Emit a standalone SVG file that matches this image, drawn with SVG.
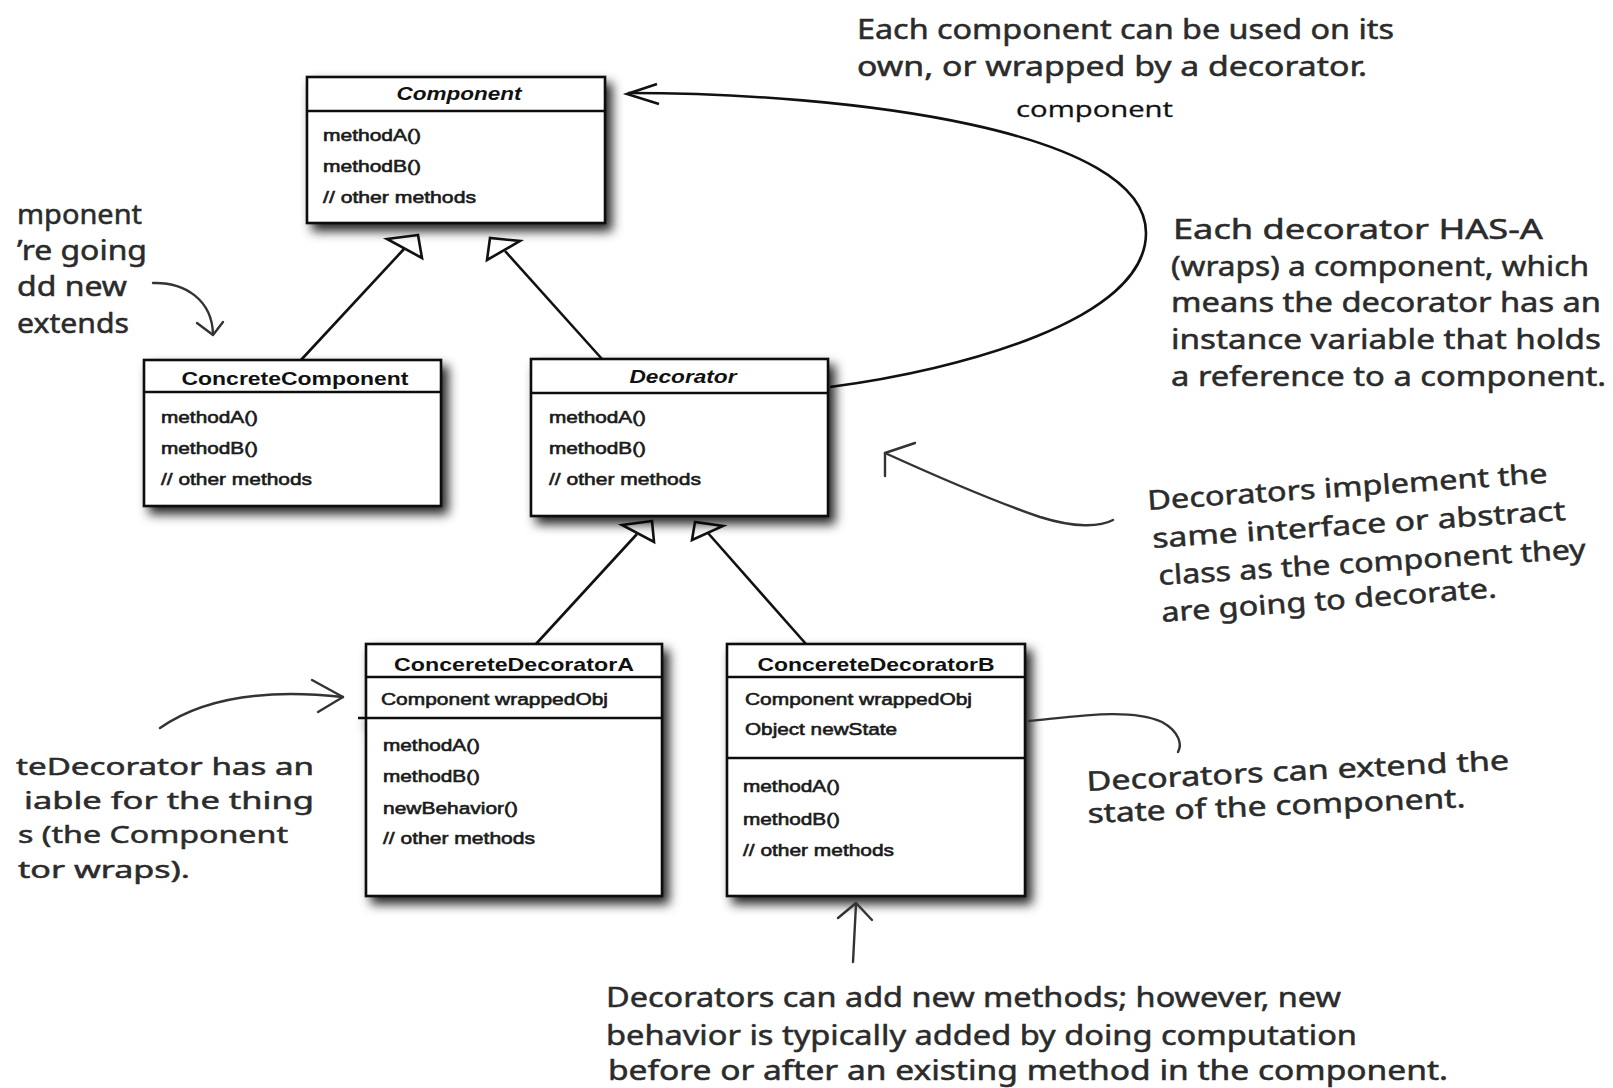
<svg xmlns="http://www.w3.org/2000/svg" width="1613" height="1088" viewBox="0 0 1613 1088">
<defs>
<style>
.box{fill:#fff;stroke:#111;stroke-width:2.6}
.dv{stroke:#111;stroke-width:2.4;fill:none}
.t{font-family:"Liberation Sans",Arial,sans-serif;font-weight:bold;font-size:19px;fill:#111}
.ti{font-style:italic}
.m{font-family:"Liberation Sans",Arial,sans-serif;font-size:17px;fill:#1a1a1a;stroke:#1a1a1a;stroke-width:0.6}
.h{font-family:"Noto Sans",sans-serif;font-size:27px;fill:#2b2b2b;stroke:#2b2b2b;stroke-width:0.5}
.hs{font-size:24px}
.lbl{font-family:"Open Sans","Noto Sans",sans-serif;font-size:22px;fill:#111;stroke:#111;stroke-width:0.3}
.conn{fill:none;stroke:#111;stroke-width:2.6}
.gen{fill:#fff;stroke:#111;stroke-width:2.6;stroke-linejoin:miter}
.ink{fill:none;stroke:#333;stroke-width:2.4;stroke-linecap:round;stroke-linejoin:round}
</style>
<filter id="sh" x="-10%" y="-10%" width="130%" height="130%">
<feDropShadow dx="6" dy="7" stdDeviation="5.5" flood-color="#000" flood-opacity="0.85"/>
</filter>
</defs>
<rect x="0" y="0" width="1613" height="1088" fill="#fff"/>

<g id="connectors">
<line class="conn" x1="301" y1="360" x2="404" y2="249"/>
<polygon class="gen" points="418,235 387,239 422,258"/>
<line class="conn" x1="602" y1="359" x2="505" y2="251"/>
<polygon class="gen" points="490,238 487,260 520,241"/>
<line class="conn" x1="536" y1="644" x2="637" y2="534"/>
<polygon class="gen" points="652,521 622,525 654,542"/>
<line class="conn" x1="806" y1="644" x2="708" y2="533"/>
<polygon class="gen" points="695,522 692,540 723,526"/>
<path class="conn" d="M 830 387 C 960 370, 1146 320, 1146 233 C 1146 130, 850 93, 628 93"/>
<polyline class="conn" points="657,84 627,94 659,104"/>
<text class="lbl" x="1016" y="117" textLength="157" lengthAdjust="spacingAndGlyphs">component</text>
</g>

<g id="node-component">
<g filter="url(#sh)">
<rect class="box" x="307" y="77" width="298" height="146"/>
<line class="dv" x1="307" y1="111" x2="605" y2="111"/>
</g>
<text class="t ti" x="459" y="100" text-anchor="middle" textLength="125" lengthAdjust="spacingAndGlyphs">Component</text>
<text class="m" x="323" y="141" textLength="98" lengthAdjust="spacingAndGlyphs">methodA()</text>
<text class="m" x="323" y="172" textLength="98" lengthAdjust="spacingAndGlyphs">methodB()</text>
<text class="m" x="323" y="203" textLength="153" lengthAdjust="spacingAndGlyphs">// other methods</text>
</g>

<g id="node-concretecomponent">
<g filter="url(#sh)">
<rect class="box" x="144" y="360" width="297" height="146"/>
<line class="dv" x1="144" y1="392" x2="441" y2="392"/>
</g>
<text class="t" x="295" y="385" text-anchor="middle" textLength="227" lengthAdjust="spacingAndGlyphs">ConcreteComponent</text>
<text class="m" x="161" y="423" textLength="97" lengthAdjust="spacingAndGlyphs">methodA()</text>
<text class="m" x="161" y="454" textLength="97" lengthAdjust="spacingAndGlyphs">methodB()</text>
<text class="m" x="161" y="485" textLength="151" lengthAdjust="spacingAndGlyphs">// other methods</text>
</g>

<g id="node-decorator">
<g filter="url(#sh)">
<rect class="box" x="531" y="359" width="297" height="157"/>
<line class="dv" x1="531" y1="393" x2="828" y2="393"/>
</g>
<text class="t ti" x="683" y="383" text-anchor="middle" textLength="107" lengthAdjust="spacingAndGlyphs">Decorator</text>
<text class="m" x="549" y="423" textLength="97" lengthAdjust="spacingAndGlyphs">methodA()</text>
<text class="m" x="549" y="454" textLength="97" lengthAdjust="spacingAndGlyphs">methodB()</text>
<text class="m" x="549" y="485" textLength="152" lengthAdjust="spacingAndGlyphs">// other methods</text>
</g>

<g id="node-decoratorA">
<g filter="url(#sh)">
<rect class="box" x="366" y="644" width="296" height="252"/>
<line class="dv" x1="366" y1="677" x2="662" y2="677"/>
<line class="dv" x1="358" y1="718" x2="662" y2="718"/>
</g>
<text class="t" x="514" y="671" text-anchor="middle" textLength="240" lengthAdjust="spacingAndGlyphs">ConcereteDecoratorA</text>
<text class="m" x="381" y="705" textLength="227" lengthAdjust="spacingAndGlyphs">Component wrappedObj</text>
<text class="m" x="383" y="751" textLength="97" lengthAdjust="spacingAndGlyphs">methodA()</text>
<text class="m" x="383" y="782" textLength="97" lengthAdjust="spacingAndGlyphs">methodB()</text>
<text class="m" x="383" y="814" textLength="135" lengthAdjust="spacingAndGlyphs">newBehavior()</text>
<text class="m" x="383" y="844" textLength="152" lengthAdjust="spacingAndGlyphs">// other methods</text>
</g>

<g id="node-decoratorB">
<g filter="url(#sh)">
<rect class="box" x="727" y="644" width="298" height="252"/>
<line class="dv" x1="727" y1="677" x2="1025" y2="677"/>
<line class="dv" x1="727" y1="758" x2="1025" y2="758"/>
</g>
<text class="t" x="876" y="671" text-anchor="middle" textLength="237" lengthAdjust="spacingAndGlyphs">ConcereteDecoratorB</text>
<text class="m" x="745" y="705" textLength="227" lengthAdjust="spacingAndGlyphs">Component wrappedObj</text>
<text class="m" x="745" y="735" textLength="152" lengthAdjust="spacingAndGlyphs">Object newState</text>
<text class="m" x="743" y="792" textLength="97" lengthAdjust="spacingAndGlyphs">methodA()</text>
<text class="m" x="743" y="825" textLength="97" lengthAdjust="spacingAndGlyphs">methodB()</text>
<text class="m" x="743" y="856" textLength="151" lengthAdjust="spacingAndGlyphs">// other methods</text>
</g>

<g id="note-own">
<text class="h" x="857" y="39" textLength="537" lengthAdjust="spacingAndGlyphs">Each component can be used on its</text>
<text class="h" x="857" y="76" textLength="510" lengthAdjust="spacingAndGlyphs">own, or wrapped by a decorator.</text>
</g>

<g id="note-hasa">
<text class="h" x="1173" y="239" textLength="370" lengthAdjust="spacingAndGlyphs">Each decorator HAS-A</text>
<text class="h" x="1171" y="276" textLength="418" lengthAdjust="spacingAndGlyphs">(wraps) a component, which</text>
<text class="h" x="1171" y="312" textLength="430" lengthAdjust="spacingAndGlyphs">means the decorator has an</text>
<text class="h" x="1171" y="349" textLength="430" lengthAdjust="spacingAndGlyphs">instance variable that holds</text>
<text class="h" x="1171" y="386" textLength="435" lengthAdjust="spacingAndGlyphs">a reference to a component.</text>
</g>

<g id="note-implement">
<path class="ink" d="M 885 453 C 940 478, 990 500, 1040 517 C 1075 528, 1100 527, 1113 520"/>
<polyline class="ink" points="915,443 885,453 885,476"/>
<text class="h" x="1148" y="510" transform="rotate(-3.9 1148 510)" textLength="401" lengthAdjust="spacingAndGlyphs">Decorators implement the</text>
<text class="h" x="1153" y="548" transform="rotate(-3.9 1153 548)" textLength="414" lengthAdjust="spacingAndGlyphs">same interface or abstract</text>
<text class="h" x="1159" y="585" transform="rotate(-3.6 1159 585)" textLength="428" lengthAdjust="spacingAndGlyphs">class as the component they</text>
<text class="h" x="1162" y="622" transform="rotate(-4.2 1162 622)" textLength="336" lengthAdjust="spacingAndGlyphs">are going to decorate.</text>
</g>

<g id="note-extend">
<path class="ink" d="M 1029 721 C 1080 716, 1130 708, 1162 722 C 1180 732, 1182 745, 1178 752"/>
<text class="h" x="1087" y="791" transform="rotate(-2.9 1087 791)" textLength="423" lengthAdjust="spacingAndGlyphs">Decorators can extend the</text>
<text class="h" x="1088" y="823" transform="rotate(-2.4 1088 823)" textLength="378" lengthAdjust="spacingAndGlyphs">state of the component.</text>
</g>

<g id="note-newmethods">
<path class="ink" d="M 853 962 L 856 904"/>
<polyline class="ink" points="838,918 856,903 872,920"/>
<text class="h" x="606" y="1007" textLength="735" lengthAdjust="spacingAndGlyphs">Decorators can add new methods; however, new</text>
<text class="h" x="606" y="1045" textLength="751" lengthAdjust="spacingAndGlyphs">behavior is typically added by doing computation</text>
<text class="h" x="608" y="1080" textLength="840" lengthAdjust="spacingAndGlyphs">before or after an existing method in the component.</text>
</g>

<g id="note-extends">
<text class="h" x="17" y="224" textLength="125" lengthAdjust="spacingAndGlyphs">mponent</text>
<text class="h" x="17" y="260" textLength="130" lengthAdjust="spacingAndGlyphs">’re going</text>
<text class="h" x="17" y="296" textLength="110" lengthAdjust="spacingAndGlyphs">dd new</text>
<text class="h" x="17" y="333" textLength="112" lengthAdjust="spacingAndGlyphs">extends</text>
<path class="ink" d="M 153 283 C 185 282, 212 300, 213 334"/>
<polyline class="ink" points="197,323 213,335 223,322"/>
</g>

<g id="note-wrapped">
<path class="ink" d="M 160 728 C 200 700, 260 688, 343 697"/>
<polyline class="ink" points="312,680 343,697 318,712"/>
<text class="h hs" x="16" y="775" textLength="298" lengthAdjust="spacingAndGlyphs">teDecorator has an</text>
<text class="h hs" x="24" y="809" textLength="290" lengthAdjust="spacingAndGlyphs">iable for the thing</text>
<text class="h hs" x="18" y="843" textLength="270" lengthAdjust="spacingAndGlyphs">s (the Component</text>
<text class="h hs" x="18" y="878" textLength="172" lengthAdjust="spacingAndGlyphs">tor wraps).</text>
</g>
</svg>
